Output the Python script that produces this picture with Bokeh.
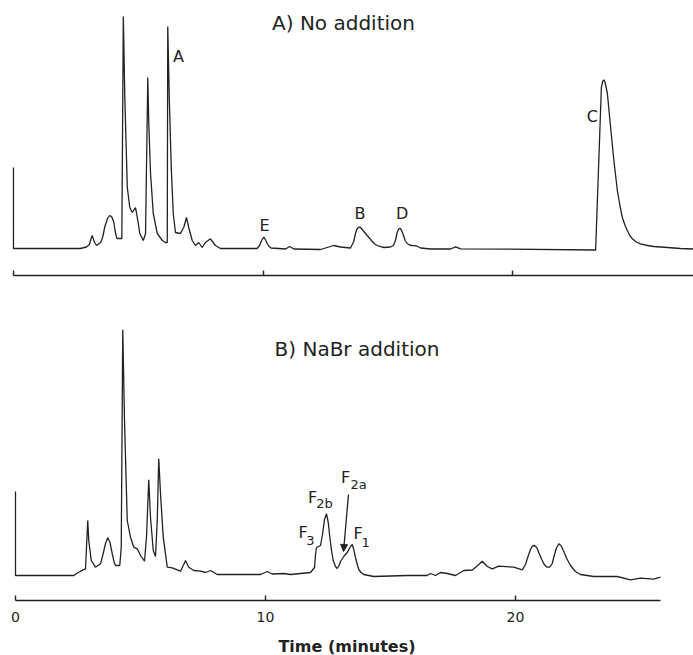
from bokeh.plotting import figure
from bokeh.layouts import column
from bokeh.models import Range1d, FixedTicker, ColumnDataSource, Arrow, NormalHead
from bokeh.core.properties import value
from bokeh.embed import file_html
from bokeh.resources import INLINE

# ---------------- data (time in minutes, detector response in arbitrary units) ----------------
time_a = [0.0, 0.0, 2.68, 2.92, 3.04, 3.15, 3.25, 3.33, 3.49, 3.58, 3.66, 3.77, 3.85, 3.93, 4.01,
          4.07, 4.12, 4.15, 4.34, 4.40, 4.46, 4.56, 4.66, 4.76, 4.89, 4.98, 5.06, 5.20, 5.29, 5.38,
          5.42, 5.49, 5.60, 5.76, 5.96, 6.09, 6.16, 6.18, 6.24, 6.32, 6.40, 6.49, 6.69, 6.82, 6.93,
          7.02, 7.16, 7.29, 7.42, 7.56, 7.69, 7.89, 8.09, 8.29, 9.76, 9.86, 9.94, 10.03, 10.10, 10.16,
          10.24, 10.32, 10.90, 11.06, 11.23, 12.30, 12.63, 12.83, 13.10, 13.50, 13.63, 13.70, 13.76,
          13.83, 13.90, 13.97, 14.07, 14.17, 14.27, 14.37, 14.47, 14.57, 14.70, 14.84, 15.10, 15.22,
          15.30, 15.37, 15.43, 15.48, 15.54, 15.61, 15.69, 15.77, 15.87, 15.97, 16.07, 16.15, 16.31,
          16.71, 17.51, 17.71, 17.91, 19.78, 23.32, 23.55, 23.60, 23.65, 23.70, 23.79, 23.92, 24.05,
          24.19, 24.30, 24.39, 24.50, 24.59, 24.69, 24.79, 24.95, 25.12, 25.40, 25.65, 26.20, 26.72,
          27.24]
resp_a = [81, 0, 0, 1.5, 4, 13, 6, 3, 6, 12, 22, 30, 33, 32, 27,
          18, 12, 10, 10, 232, 151, 61, 41, 36, 41, 28, 15, 8, 15, 171,
          125, 75, 35, 15, 8, 6, 6, 222, 151, 81, 35, 16, 15, 21, 31,
          21, 8, 3, 6, 1, 6, 9.7, 3, 0, 0, 3, 8, 11.3, 8.5, 5,
          2, 0.5, -0.5, 2, -0.5, -1, 1.5, 3, 1.5, 0.5, 7, 15, 19.5,
          21.3, 21, 19, 16, 13, 10, 7, 4.5, 3, 1.8, 1, 1.5, 3,
          8, 16, 19.5, 20.3, 18.5, 14, 8, 5, 3.5, 3, 2.8, 2.5, 0.5,
          -0.5, -0.5, 1.7, -0.3, -0.7, -1.5, 161, 167, 168.7, 166, 155, 121, 88,
          58, 42, 31, 23, 18, 13, 9.7, 6.5, 4.7, 3, 2, 1, 0,
          -0.5]

time_b = [0.0, 0.0, 2.33, 2.44, 2.60, 2.80, 2.89, 2.93, 3.03, 3.20, 3.40, 3.50, 3.60, 3.69, 3.78,
          3.87, 3.95, 4.00, 4.17, 4.23, 4.29, 4.36, 4.47, 4.60, 4.73, 4.87, 5.00, 5.16, 5.24, 5.33,
          5.40, 5.51, 5.60, 5.67, 5.73, 5.80, 5.91, 6.07, 6.27, 6.60, 6.73, 6.80, 6.93, 7.13, 7.40,
          7.60, 7.80, 8.07, 8.73, 9.80, 10.07, 10.27, 10.73, 11.00, 11.40, 11.80, 11.96, 12.00, 12.04,
          12.12, 12.20, 12.28, 12.36, 12.44, 12.51, 12.57, 12.64, 12.71, 12.80, 12.87, 12.94, 13.00,
          13.13, 13.27, 13.40, 13.47, 13.53, 13.60, 13.67, 13.73, 13.82, 13.93, 14.33, 15.67, 16.47,
          16.60, 16.80, 17.00, 17.27, 17.60, 17.93, 18.27, 18.49, 18.67, 18.87, 19.07, 19.33, 19.93,
          20.27, 20.40, 20.50, 20.60, 20.68, 20.76, 20.85, 20.93, 21.05, 21.15, 21.25, 21.37, 21.47,
          21.55, 21.63, 21.73, 21.82, 21.93, 22.05, 22.20, 22.40, 22.60, 23.13, 24.07, 24.60, 25.00,
          25.53, 25.80]
resp_b = [83, -1, -1, 1, 3.3, 5.7, 54, 34, 14, 7.3, 10.7, 20, 31, 36.7, 32,
          20.7, 12, 9, 9, 27.3, 244.7, 154, 54, 37.3, 27.3, 25.7, 19, 13.3, 37.3, 94.7,
          57, 24, 18, 54, 115.7, 81, 37.3, 7.3, 6.7, 3.3, 10, 14, 7.3, 4, 3.3,
          2, 4, 0, 0, 0, 3, 0.5, 1, 0, 1, 2, 7, 20, 27,
          28, 29, 40, 55, 60.7, 52, 38, 24, 14, 8, 6, 9, 13,
          18, 22, 28, 30, 25, 17, 10, 5, 2, 0, -2, -1, -1,
          1, -1, 2, 1, -1, 4, 4.5, 9, 13.3, 8, 5.7, 8.3, 7.3,
          4.7, 10, 18, 25, 28.5, 29, 27, 22, 15, 10, 7.5, 7.3, 11,
          19, 26, 30.7, 29, 23, 16, 9, 3, 0, -2, -2, -5.3, -3.7,
          -4.7, -2.7]

tick_values = [0, 10, 20]
tick_labels = ["0", "10", "20"]

# peak labels (text, time, response position of the label)
labels_a = ["A", "E", "B", "D", "C"]
labels_a_t = [6.61, 10.06, 13.88, 15.57, 23.19]
labels_a_y = [192, 23, 35, 35, 132]

labels_b_main = ["F", "F", "F", "F"]
labels_b_main_t = [11.50, 11.88, 13.20, 13.70]
labels_b_main_y = [42, 77, 97, 41.5]
labels_b_sub = ["3", "2b", "2a", "1"]
labels_b_sub_t = [11.80, 12.36, 13.72, 14.01]
labels_b_sub_y = [34, 71, 90, 32.5]

INK = "#222222"
FONT = "DejaVu Sans"


def base_fig(height, frame_h, xr, yr, min_bottom):
    p = figure(width=693, height=height, frame_width=693, frame_height=frame_h,
               x_range=xr, y_range=yr,
               output_backend="svg", toolbar_location=None, y_axis_location=None,
               min_border_left=0, min_border_right=0, min_border_top=0,
               min_border_bottom=min_bottom)
    p.outline_line_color = None
    p.xgrid.visible = False
    p.ygrid.visible = False
    p.background_fill_color = "white"
    p.border_fill_color = "white"
    ax = p.xaxis[0]
    ax.ticker = FixedTicker(ticks=tick_values)
    ax.major_tick_in = 5
    ax.major_tick_out = 0
    ax.minor_tick_line_color = None
    ax.axis_line_color = INK
    ax.axis_line_width = 1.6
    ax.major_tick_line_color = INK
    ax.major_tick_line_width = 1.4
    return p


# ---------------- panel A ----------------
p1 = base_fig(290, 275, Range1d(-0.52, 27.24), Range1d(-27, 248), 15)
p1.xaxis.bounds = (0, 27.24)
p1.xaxis.major_label_text_color = None
p1.xaxis.major_label_text_font_size = "8px"
p1.xaxis.major_label_standoff = 0
p1.line(time_a, resp_a, line_color=INK, line_width=1.3)
src_a = ColumnDataSource(dict(t=labels_a_t, y=labels_a_y, s=labels_a))
p1.text(x="t", y="y", text="s", source=src_a, text_font=value(FONT),
        text_font_size="16px", text_color=INK, text_align="center", text_baseline="middle")
p1.text(x=[13.22], y=[226], text=["A) No addition"], text_font=value(FONT),
        text_font_size="20px", text_color=INK, text_align="center", text_baseline="middle")

# ---------------- panel B ----------------
p2 = base_fig(365, 310, Range1d(-0.6, 27.12), Range1d(-26, 284), 55)
p2.xaxis.bounds = (0, 25.8)
p2.xaxis.major_label_overrides = {v: s for v, s in zip(tick_values, tick_labels)}
p2.xaxis.major_label_text_font = FONT
p2.xaxis.major_label_text_font_size = "14px"
p2.xaxis.major_label_text_color = INK
p2.xaxis.major_label_standoff = 11
p2.xaxis.axis_label = "Time (minutes)"
p2.xaxis.axis_label_text_font = FONT
p2.xaxis.axis_label_text_font_size = "16px"
p2.xaxis.axis_label_text_font_style = "bold"
p2.xaxis.axis_label_text_color = INK
p2.xaxis.axis_label_standoff = 12
p2.line(time_b, resp_b, line_color=INK, line_width=1.3)
src_bm = ColumnDataSource(dict(t=labels_b_main_t, y=labels_b_main_y, s=labels_b_main))
p2.text(x="t", y="y", text="s", source=src_bm, text_font=value(FONT),
        text_font_size="16px", text_color=INK, text_align="center", text_baseline="middle")
src_bs = ColumnDataSource(dict(t=labels_b_sub_t, y=labels_b_sub_y, s=labels_b_sub))
p2.text(x="t", y="y", text="s", source=src_bs, text_font=value(FONT),
        text_font_size="13px", text_color=INK, text_align="center", text_baseline="middle")
p2.text(x=[13.66], y=[226], text=["B) NaBr addition"], text_font=value(FONT),
        text_font_size="20px", text_color=INK, text_align="center", text_baseline="middle")
p2.add_layout(Arrow(end=NormalHead(size=7, fill_color=INK, line_color=INK),
                    x_start=13.32, y_start=80, x_end=13.12, y_end=23,
                    line_color=INK, line_width=1.3))

layout = column(p1, p2, spacing=0)
open("out.html", "w").write(file_html(layout, INLINE))
